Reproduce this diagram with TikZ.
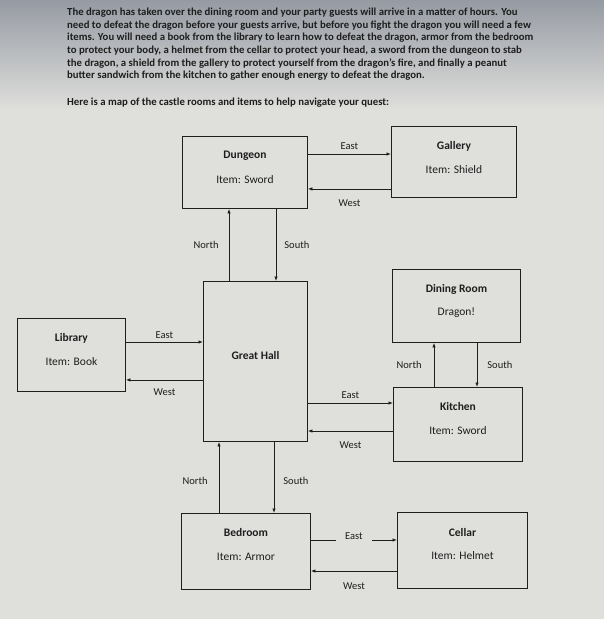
\documentclass[tikz,border=0pt]{standalone}
\usepackage{fontspec}
\setmainfont{Carlito}
\usetikzlibrary{arrows.meta, positioning}
\definecolor{paper}{RGB}{223,223,220}
\definecolor{screen}{RGB}{150,155,163}
\definecolor{ink}{RGB}{30,30,30}

\begin{document}
\begin{tikzpicture}[x=1pt, y=-1pt, >={Latex[length=4.5pt,width=3.5pt]},
  room/.style={draw=ink, line width=0.9pt, anchor=north west, inner sep=0pt},
  title/.style={font=\fontsize{11.5}{13}\selectfont\bfseries, text=ink},
  item/.style={font=\fontsize{11.5}{13}\selectfont, text=ink},
  dir/.style={font=\fontsize{10.5}{12}\selectfont, text=ink, inner sep=1pt},
  go/.style={->, draw=ink, line width=0.8pt}]
  % screen background
  \useasboundingbox (0,0) rectangle (604,619);
  \fill[paper] (0,0) rectangle (604,619);
  \shade[top color=screen, bottom color=paper] (0,0) rectangle (604,110);
  % quest text
  \node[anchor=north west, align=left, inner sep=0pt, text=ink,
        font=\fontsize{10.75}{12.6}\selectfont\bfseries] (intro) at (67,8)
    {The dragon has taken over the dining room and your party guests will arrive in a matter of hours. You\\
     need to defeat the dragon before your guests arrive, but before you fight the dragon you will need a few\\
     items. You will need a book from the library to learn how to defeat the dragon, armor from the bedroom\\
     to protect your body, a helmet from the cellar to protect your head, a sword from the dungeon to stab\\
     the dragon, a shield from the gallery to protect yourself from the dragon’s fire, and finally a peanut\\
     butter sandwich from the kitchen to gather enough energy to defeat the dragon.};
  \node[anchor=north west, inner sep=0pt, text=ink,
        font=\fontsize{10.75}{12.6}\selectfont\bfseries] (hint) at (67,98)
    {Here is a map of the castle rooms and items to help navigate your quest:};
  % rooms
  \node[room, minimum width=125pt, minimum height=72pt] (dungeon) at (182,136) {};
  \node[room, minimum width=125pt, minimum height=71pt] (gallery) at (391,126) {};
  \node[room, minimum width=108pt, minimum height=73pt] (library) at (17,318) {};
  \node[room, minimum width=104pt, minimum height=160pt] (hall) at (203,281) {};
  \node[room, minimum width=128pt, minimum height=73pt] (dining) at (392,269) {};
  \node[room, minimum width=129pt, minimum height=74pt] (kitchen) at (393,387) {};
  \node[room, minimum width=129pt, minimum height=76pt] (bedroom) at (181,513) {};
  \node[room, minimum width=130pt, minimum height=76pt] (cellar) at (397,512) {};
  % room names and items
  \foreach \r/\t/\i in {dungeon/Dungeon/{Item: Sword}, gallery/Gallery/{Item: Shield},
      library/Library/{Item: Book}, dining/{Dining Room}/Dragon!, kitchen/Kitchen/{Item: Sword},
      bedroom/Bedroom/{Item: Armor}, cellar/Cellar/{Item: Helmet}} {
    \node[title] (\r-t) at ([yshift=-20pt]\r.north) {\t};
    \node[item] (\r-i) at ([yshift=-44pt]\r.north) {\i};
  }
  \node[title] (hall-t) at ([yshift=-75pt]hall.north) {Great Hall};
  % dungeon and gallery
  \draw[go] ([yshift=-18pt]dungeon.north east) -- ([yshift=-18pt]dungeon.north east -| gallery.west)
    node[dir, midway, above=3pt] (e1) {East};
  \draw[go] ([yshift=20pt]dungeon.south east -| gallery.west) -- ([yshift=20pt]dungeon.south east)
    node[dir, midway, below=9pt] (w1) {West};
  % hall and dungeon
  \draw[go] ([xshift=47pt]dungeon.south west |- hall.north) -- ([xshift=47pt]dungeon.south west)
    node[dir, midway, left=9pt] (n1) {North};
  \draw[go] ([xshift=73pt]hall.north west |- dungeon.south) -- ([xshift=73pt]hall.north west)
    node[dir, midway, right=7pt] (s1) {South};
  % library and hall
  \draw[go] ([yshift=-24pt]library.north east) -- ([yshift=-24pt]library.north east -| hall.west)
    node[dir, midway, above=2.5pt] (e2) {East};
  \draw[go] ([yshift=12pt]library.south east -| hall.west) -- ([yshift=12pt]library.south east)
    node[dir, midway, below=7pt] (w2) {West};
  % hall and kitchen
  \draw[go] ([yshift=-16pt]kitchen.north west -| hall.east) -- ([yshift=-16pt]kitchen.north west)
    node[dir, midway, above=3pt] (e3) {East};
  \draw[go] ([yshift=-44pt]kitchen.north west) -- ([yshift=-44pt]kitchen.north west -| hall.east)
    node[dir, midway, below=9pt] (w3) {West};
  % kitchen and dining room
  \draw[go] ([xshift=41pt]kitchen.north west) -- ([xshift=41pt]kitchen.north west |- dining.south)
    node[dir, midway, left=11pt] (n2) {North};
  \draw[go] ([xshift=84pt]kitchen.north west |- dining.south) -- ([xshift=84pt]kitchen.north west)
    node[dir, midway, right=9pt] (s2) {South};
  % bedroom and hall
  \draw[go] ([xshift=38pt]bedroom.north west) -- ([xshift=38pt]bedroom.north west |- hall.south)
    node[dir, pos=0.45, left=10pt] (n3) {North};
  \draw[go] ([xshift=71pt]hall.south west) -- ([xshift=71pt]hall.south west |- bedroom.north)
    node[dir, pos=0.55, right=8pt] (s3) {South};
  % bedroom and cellar
  \draw[go] ([yshift=-27pt]bedroom.north east) -- ([yshift=-27pt]bedroom.north east -| cellar.west)
    node[dir, midway, fill=paper, inner xsep=9pt, minimum height=15pt, yshift=4pt] (e4) {East};
  \draw[go] ([yshift=-59pt]cellar.north west) -- ([yshift=-59pt]cellar.north west -| bedroom.east)
    node[dir, midway, below=10pt] (w4) {West};
\end{tikzpicture}
\end{document}
